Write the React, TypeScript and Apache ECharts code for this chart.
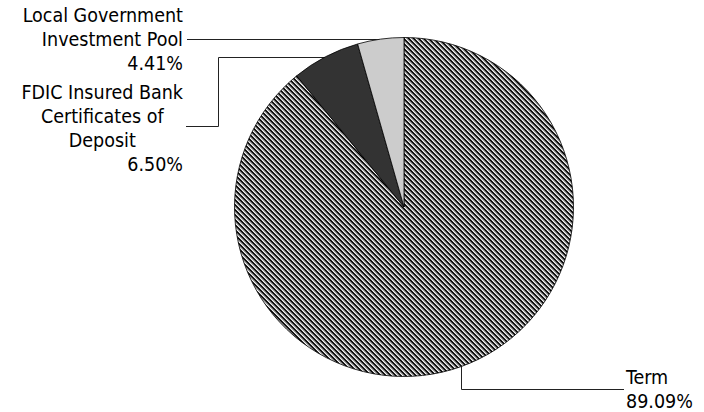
import React, { useEffect, useRef } from "react";
import * as echarts from "echarts";

// ---- data ----
const categories = [
  "Term",
  "FDIC Insured Bank Certificates of Deposit",
  "Local Government Investment Pool",
];
const labelRows = [
  ["Term"],
  ["FDIC Insured Bank", "Certificates of", "Deposit"],
  ["Local Government", "Investment Pool"],
];
const values = [89.09, 6.5, 4.41];

// ---- styles / layout ----
const CX = 404;
const CY = 207;
const R = 169.5;
const FONT = "'DejaVu Sans Condensed', 'DejaVu Sans', sans-serif";
const FONT_SIZE = 19.5;
const LINE_H = 24;

function makePattern(): HTMLCanvasElement {
  const c = document.createElement("canvas");
  const n = 5;
  c.width = n;
  c.height = n;
  const ctx = c.getContext("2d")!;
  const cols = ["#000000", "#333333", "#f4f4f4", "#a8a8a8", "#6a6a6a"];
  for (let y = 0; y < n; y++) {
    for (let x = 0; x < n; x++) {
      const k = (((x - y) % n) + n) % n;
      ctx.fillStyle = cols[k];
      ctx.fillRect(x, y, 1, 1);
    }
  }
  return c;
}

function edgePoint(i: number): [number, number] {
  const total = values.reduce((a, b) => a + b, 0);
  let cum = 0;
  for (let k = 0; k < i; k++) cum += values[k];
  const m = ((cum + values[i] / 2) / total) * 2 * Math.PI;
  return [CX + R * Math.sin(m), CY - R * Math.cos(m)];
}

export default function App() {
  const ref = useRef<HTMLDivElement>(null);
  useEffect(() => {
    if (!ref.current) return;
    const chart = echarts.init(ref.current, undefined, { renderer: "svg" });
    const pattern = makePattern();
    const fills: any[] = [
      { image: pattern, repeat: "repeat", imageWidth: 5, imageHeight: 5 },
      "#333333",
      "#cccccc",
    ];

    const p0 = edgePoint(0);
    const p1 = edgePoint(1);
    const p2 = edgePoint(2);

    const labelPos = [
      { x: 626, y: 389, align: "left" },
      { x: 183, y: 128, align: "right" },
      { x: 183, y: p2[1], align: "right" },
    ];

    const rowAlign = [
      ["left", "left"],
      ["right", "center", "center", "right"],
      ["right", "right", "right"],
    ];

    const textBase = {
      fontFamily: FONT,
      fontSize: FONT_SIZE,
      lineHeight: LINE_H,
      color: "#000",
    };

    const data = categories.map((name, i) => {
      const rows = [...labelRows[i], values[i].toFixed(2) + "%"];
      const fmt = rows.map((r, j) => `{${rowAlign[i][j][0]}|${r}}`).join("\n");
      return {
        name,
        value: values[i],
        itemStyle: { color: fills[i] },
        label: { formatter: fmt },
      };
    });

    const lineStyle = { stroke: "#222", lineWidth: 1, fill: "none" };
    const r05 = (v: number) => Math.round(v) + 0.5;

    chart.setOption({
      animation: false,
      backgroundColor: "#fff",
      series: [
        {
          type: "pie",
          center: [CX, CY],
          radius: R,
          startAngle: 90,
          clockwise: true,
          avoidLabelOverlap: false,
          itemStyle: { borderColor: "#000", borderWidth: 0.8 },
          label: {
            show: true,
            position: "outside",
            ...textBase,
            rich: {
              l: { ...textBase, align: "left" },
              r: { ...textBase, align: "right" },
              c: { ...textBase, align: "center" },
            },
          },
          labelLine: { show: false },
          labelLayout: (params: any) => {
            const lp = labelPos[params.dataIndex];
            return { x: lp.x, y: lp.y, align: lp.align, verticalAlign: "middle" };
          },
          emphasis: { disabled: true },
          data,
        },
      ],
      graphic: [
        {
          type: "polyline",
          silent: true,
          shape: {
            points: [
              [r05(p0[0]), p0[1]],
              [r05(p0[0]), r05(389)],
              [624, r05(389)],
            ],
          },
          style: lineStyle,
        },
        {
          type: "polyline",
          silent: true,
          shape: {
            points: [
              [p1[0], r05(p1[1])],
              [r05(218), r05(p1[1])],
              [r05(218), r05(126)],
              [186, r05(126)],
            ],
          },
          style: lineStyle,
        },
        {
          type: "polyline",
          silent: true,
          shape: {
            points: [
              [p2[0], r05(p2[1])],
              [187, r05(p2[1])],
            ],
          },
          style: lineStyle,
        },
      ],
    });
    return () => chart.dispose();
  }, []);
  return (
    <div
      ref={ref}
      style={{ position: "absolute", left: 0, top: 0, width: 704, height: 412 }}
    />
  );
}
